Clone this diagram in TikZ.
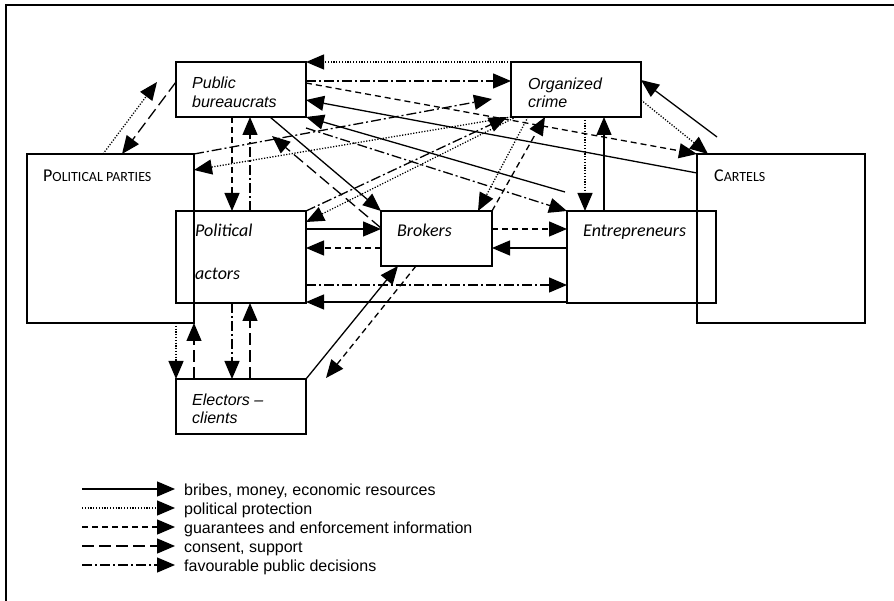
\documentclass[tikz,border=0pt]{standalone}
\usepackage{fontspec}
\setmainfont{Liberation Sans}
\newfontfamily\calfont{Carlito}
\usetikzlibrary{arrows.meta,calc}
\tikzset {>={Triangle[length=18pt,width=15pt]}}
\tikzset{
  box/.style={draw,line width=1.2pt,inner sep=0pt,outer sep=0pt,anchor=north west},
  bigbox/.style={box,line width=1.9pt},
  lbl/.style={anchor=base west,inner sep=0pt,font=\fontsize{16}{19}\selectfont\itshape},
  cal/.style={anchor=base west,inner sep=0pt,font=\calfont\fontsize{18}{20}\selectfont\itshape},
  caps/.style={anchor=base west,inner sep=0pt,font=\calfont},
  keytext/.style={anchor=base west,inner sep=0pt,font=\fontsize{16}{19}\selectfont},
  money/.style={->,line width=1.3pt},
  protect/.style={->,line width=1.3pt,dash pattern=on 1.2pt off 1.6pt},
  guarantee/.style={->,line width=1.3pt,dash pattern=on 6pt off 4pt},
  consent/.style={->,line width=1.3pt,dash pattern=on 12pt off 5pt},
  decision/.style={->,line width=1.3pt,dash pattern=on 10pt off 3pt on 2pt off 3pt}
}

\begin{document}
\begin{tikzpicture}[x=1pt,y=-1pt]
\useasboundingbox (0,0) rectangle (894,601);

% frame, only left and top edges show
\draw [line width=2pt] (6,601) -- (6,5) -- (894,5);

% Boxes
\node [bigbox,minimum width=167pt,minimum height=169pt] (PP) at (27,154) {};
\node [bigbox,minimum width=168pt,minimum height=169pt] (Car) at (697,154) {};
\node [box,minimum width=130pt,minimum height=55pt] (PB) at (176,62) {};
\node [box,minimum width=130pt,minimum height=55pt] (OC) at (511,62) {};
\node [box,minimum width=130pt,minimum height=92pt] (PA) at (176,211) {};
\node [box,minimum width=111pt,minimum height=55pt] (Bro) at (381,211) {};
\node [box,minimum width=149pt,minimum height=92pt] (Ent) at (567,211) {};
\node [box,minimum width=130pt,minimum height=55pt] (El) at (176,379) {};

% Box texts
\node [lbl] (pb-1) at (192,89) {Public};
\node [lbl] (pb-2) at (192,108) {bureaucrats};
\node [lbl] (oc-1) at (528,90) {Organized};
\node [lbl] (oc-2) at (528,108) {crime};
\node [lbl] (el-1) at (192,405) {Electors \textendash};
\node [lbl] (el-2) at (192,423) {clients};
\node [cal] (pa-1) at (195,237) {Political};
\node [cal] (pa-2) at (195,280) {actors};
\node [cal] (bro-1) at (397,237) {Brokers};
\node [cal] (ent-1) at (583,237) {Entrepreneurs};
\node [caps] (pp-1) at (43,182)
  {{\fontsize{18}{20}\selectfont P}{\fontsize{14}{16}\selectfont OLITICAL PARTIES}};
\node [caps] (car-1) at (714,182)
  {{\fontsize{18}{20}\selectfont C}{\fontsize{14}{16}\selectfont ARTELS}};

% Free ends
\coordinate (ent-top) at (565,192);
\coordinate (pb-low) at (306,128);
\coordinate (pb-tip) at (272,136);
\coordinate (pb-left) at (157,82);
\coordinate (oc-front) at (492,99);
\coordinate (car-top) at (717,137);
\coordinate (el-tip) at (326,378);

% Public bureaucrats and organized crime
\draw [protect] (OC.north west) -- (PB.north east);
\draw [decision] (PB.east |- 0,81) -- (OC.west |- 0,81);
\draw [guarantee] (PB.east |- 0,83) -- (Car.north west);
\draw [money] (Car.west |- 0,173) -- (PB.east |- 0,100);
\draw [money] (ent-top) -- (PB.south east);
\draw [decision] (pb-low) -- (Ent.north west);

% Public bureaucrats, political actors, brokers, parties
\draw [decision] (250,0 |- PA.north) -- (250,0 |- PB.south);
\draw [guarantee] (232,0 |- PB.south) -- (232,0 |- PA.north);
\draw [consent] (Bro.west |- 0,228) -- (pb-tip);
\draw [money] (270,0 |- PB.south) -- (Bro.north west);
\draw [consent] (PB.west |- 0,82) -- (122,0 |- PP.north);
\draw [protect] (103,0 |- PP.north) -- (pb-left);

% Organized crime and the rest
\draw [decision] (PP.north east) -- (oc-front);
\draw [protect] (OC.south west) -- (PP.east |- 0,170);
\draw [decision] (PA.north east) -- (507,0 |- OC.south);
\draw [protect] (516,0 |- OC.south) -- (PA.east |- 0,222);
\draw [protect] (528,0 |- OC.south) -- (478,0 |- Bro.north);
\draw [guarantee] (Bro.north east) -- (545,0 |- OC.south);
\draw [protect] (585,0 |- OC.south) -- (585,0 |- Ent.north);
\draw [money] (604,0 |- Ent.north) -- (604,0 |- OC.south);
\draw [protect] (OC.east |- 0,100) -- (708,0 |- Car.north);
\draw [money] (car-top) -- (OC.east |- 0,80);

% Political actors, brokers, entrepreneurs
\draw [money] (PA.east |- 0,229) -- (Bro.west |- 0,229);
\draw [guarantee] (Bro.west |- 0,248) -- (PA.east |- 0,248);
\draw [decision] (PA.east |- 0,285) -- (Ent.west |- 0,285);
\draw [money] (Ent.west |- 0,302) -- (PA.east |- 0,302);
\draw [guarantee] (Bro.east |- 0,229) -- (Ent.west |- 0,229);
\draw [money] (Ent.west |- 0,248) -- (Bro.east |- 0,248);

% Electors
\draw [protect] (176,0 |- PP.south) -- (176,0 |- El.north);
\draw [consent] (194,0 |- El.north) -- (194,0 |- PP.south);
\draw [decision] (232,0 |- PA.south) -- (232,0 |- El.north);
\draw [consent] (250,0 |- El.north) -- (250,0 |- PA.south);
\draw [money] (El.north east) -- (398,0 |- Bro.south);
\draw [guarantee] (416,0 |- Bro.south) -- (el-tip);

% Key
\foreach \sty/\txt [count=\i from 0] in {money/{bribes, money, economic resources},
    protect/{political protection},
    guarantee/{guarantees and enforcement information},
    consent/{consent, support},
    decision/{favourable public decisions}} {
  \coordinate (key-a\i) at (82,489+19*\i);
  \coordinate (key-b\i) at (175,489+19*\i);
  \draw [\sty] (key-a\i) -- (key-b\i);
  \node [keytext] (key-t\i) at (184,495+19*\i) {\txt};
}
\end{tikzpicture}
\end{document}
